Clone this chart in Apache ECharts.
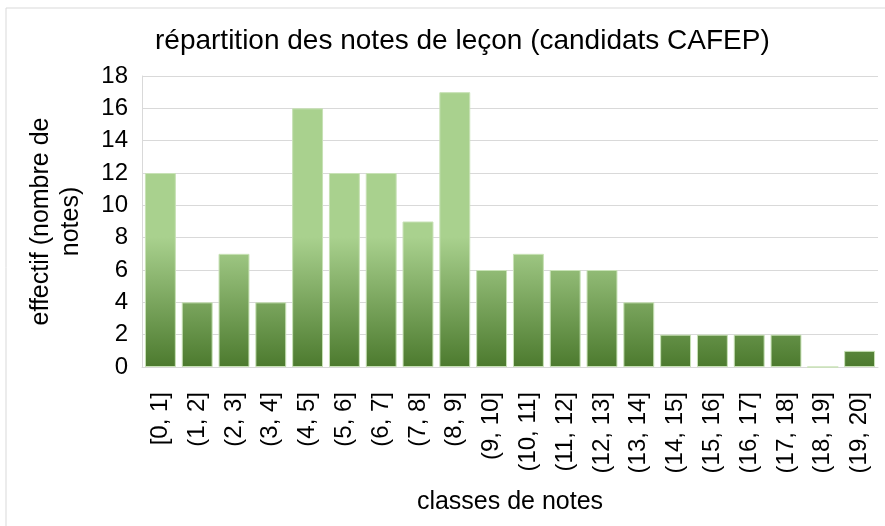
<!DOCTYPE html>
<html>
<head>
<meta charset="utf-8">
<script src="https://cdn.jsdelivr.net/npm/echarts@6/dist/echarts.min.js"></script>
<style>
  html, body { margin: 0; padding: 0; background: #fff; }
  #chart { width: 885px; height: 526px; }
</style>
</head>
<body>
<div id="chart"></div>
<script>
// données
const classes = ['[0, 1]', '(1, 2]', '(2, 3]', '(3, 4]', '(4, 5]', '(5, 6]', '(6, 7]', '(7, 8]', '(8, 9]', '(9, 10]',
  '(10, 11]', '(11, 12]', '(12, 13]', '(13, 14]', '(14, 15]', '(15, 16]', '(16, 17]', '(17, 18]', '(18, 19]', '(19, 20]'];
const effectifs = [12, 4, 7, 4, 16, 12, 12, 9, 17, 6, 7, 6, 6, 4, 2, 2, 2, 2, 0, 1];
const yTicks = [0, 2, 4, 6, 8, 10, 12, 14, 16, 18];

const chart = echarts.init(document.getElementById('chart'));
const font = 'Liberation Sans, Arial, sans-serif';

const option = {
  animation: false,
  title: {
    text: 'répartition des notes de leçon (candidats CAFEP)',
    left: 150,
    top: 22,
    textStyle: { fontFamily: font, fontSize: 28, fontWeight: 'normal', color: '#000' }
  },
  graphic: [{
    type: 'rect',
    shape: { x: 6, y: 8, width: 900, height: 540 },
    style: { fill: 'none', stroke: '#d9d9d9', lineWidth: 1 },
    silent: true
  }],
  grid: { left: 142, right: 7, top: 76, bottom: 159 },
  xAxis: {
    type: 'category',
    data: classes,
    name: 'classes de notes',
    nameLocation: 'middle',
    nameGap: 123,
    nameTextStyle: { fontFamily: font, fontSize: 25, color: '#000' },
    axisLine: { show: true, lineStyle: { color: '#d9d9d9', width: 1 } },
    axisTick: { show: false },
    axisLabel: { rotate: 90, interval: 0, margin: 25, fontFamily: font, fontSize: 24, color: '#000' }
  },
  yAxis: {
    type: 'value',
    min: 0,
    max: 18,
    interval: 2,
    name: 'effectif (nombre de\nnotes)',
    nameLocation: 'middle',
    nameRotate: 90,
    nameGap: 56,
    nameTextStyle: { fontFamily: font, fontSize: 25, color: '#000', lineHeight: 30 },
    axisLine: { show: true, lineStyle: { color: '#d9d9d9', width: 1 } },
    axisTick: { show: false },
    splitLine: { lineStyle: { color: '#d9d9d9', width: 1 } },
    axisLabel: { margin: 14, fontFamily: font, fontSize: 24, color: '#000',
      formatter: v => yTicks.includes(v) ? String(v) : '' }
  },
  series: [{
    type: 'bar',
    data: effectifs,
    barCategoryGap: '16%',
    itemStyle: {
      borderColor: '#c8e2b6',
      borderWidth: 1,
      // dégradé global : clair en haut, foncé à la base
      color: new echarts.graphic.LinearGradient(0, 237, 0, 367, [
        { offset: 0, color: '#a9d18e' },
        { offset: 1, color: '#4c7a2e' }
      ], true)
    }
  }]
};
chart.setOption(option);
</script>
</body>
</html>
